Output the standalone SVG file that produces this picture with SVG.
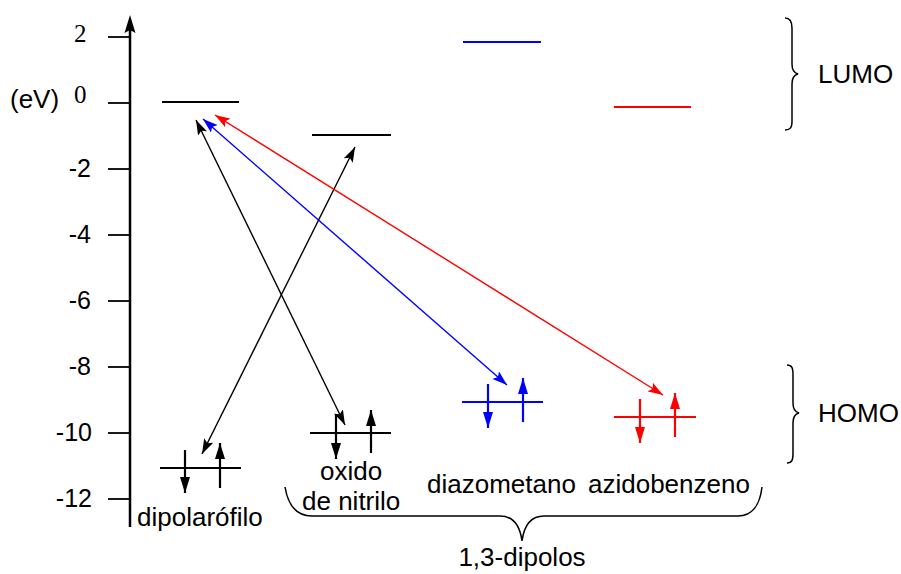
<svg xmlns="http://www.w3.org/2000/svg" width="901" height="574" viewBox="0 0 901 574">
<defs>
<marker id="ak" markerUnits="userSpaceOnUse" markerWidth="16" markerHeight="10" refX="15" refY="5" orient="auto-start-reverse" viewBox="0 0 16 10"><path d="M15,5 L0,0 L3,5 L0,10 Z" fill="#000"/></marker>
<marker id="ab" markerUnits="userSpaceOnUse" markerWidth="16" markerHeight="10" refX="15" refY="5" orient="auto-start-reverse" viewBox="0 0 16 10"><path d="M15,5 L0,0 L3,5 L0,10 Z" fill="#0000ff"/></marker>
<marker id="ar" markerUnits="userSpaceOnUse" markerWidth="16" markerHeight="10" refX="15" refY="5" orient="auto-start-reverse" viewBox="0 0 16 10"><path d="M15,5 L0,0 L3,5 L0,10 Z" fill="#ff0000"/></marker>
<marker id="ek" markerUnits="userSpaceOnUse" markerWidth="17" markerHeight="10" refX="16" refY="5" orient="auto" viewBox="0 0 17 10"><path d="M16,5 L0,0 L0,10 Z" fill="#000"/></marker>
<marker id="eb" markerUnits="userSpaceOnUse" markerWidth="17" markerHeight="10" refX="16" refY="5" orient="auto" viewBox="0 0 17 10"><path d="M16,5 L0,0 L0,10 Z" fill="#0000ff"/></marker>
<marker id="er" markerUnits="userSpaceOnUse" markerWidth="17" markerHeight="10" refX="16" refY="5" orient="auto" viewBox="0 0 17 10"><path d="M16,5 L0,0 L0,10 Z" fill="#ff0000"/></marker>
</defs>
<style>
text{font-family:"Liberation Sans",Arial,sans-serif;font-size:26px;fill:#000}
.serif{font-family:"Liberation Serif","Times New Roman",serif;font-size:25px}
.num{text-anchor:end;font-size:25px}
.lvl{stroke-width:2;fill:none}
.el{stroke-width:2.2;fill:none}
.brace{stroke:#000;stroke-width:1.5;fill:none}
.diag{stroke-width:1.4;fill:none}
</style>
<rect width="901" height="574" fill="#fff"/>
<g id="axis">
<line x1="130" y1="28" x2="130" y2="527" stroke="#000" stroke-width="2.5"/>
<path d="M130,15 L135.5,33 L130,30 L124.5,33 Z" fill="#000"/>
<g stroke="#000" stroke-width="1.8">
<line x1="108" y1="37" x2="130" y2="37"/>
<line x1="108" y1="103" x2="130" y2="103"/>
<line x1="108" y1="169" x2="130" y2="169"/>
<line x1="108" y1="235" x2="130" y2="235"/>
<line x1="108" y1="301" x2="130" y2="301"/>
<line x1="108" y1="367" x2="130" y2="367"/>
<line x1="108" y1="433" x2="130" y2="433"/>
<line x1="108" y1="499" x2="130" y2="499"/>
</g>
<text class="serif" x="74" y="42">2</text>
<text class="serif" x="74" y="103">0</text>
<text class="num" x="91" y="177">-2</text>
<text class="num" x="91" y="243">-4</text>
<text class="num" x="91" y="309">-6</text>
<text class="num" x="91" y="375">-8</text>
<text class="num" x="92" y="441">-10</text>
<text class="num" x="92" y="507">-12</text>
<text x="10" y="108">(eV)</text>
</g>
<g id="dipolarofilo">
<line class="lvl" x1="162" y1="102" x2="239" y2="102" stroke="#000"/>
<line class="lvl" x1="160" y1="468" x2="241" y2="468" stroke="#000"/>
<line class="el" x1="185" y1="450" x2="185" y2="493" stroke="#000" marker-end="url(#ek)"/>
<line class="el" x1="220" y1="488" x2="220" y2="443" stroke="#000" marker-end="url(#ek)"/>
<text x="137" y="526">dipolarófilo</text>
</g>
<g id="oxido">
<line class="lvl" x1="312" y1="135" x2="391" y2="135" stroke="#000"/>
<line class="lvl" x1="310" y1="433" x2="391" y2="433" stroke="#000"/>
<line class="el" x1="336" y1="414" x2="336" y2="459" stroke="#000" marker-end="url(#ek)"/>
<line class="el" x1="371" y1="453" x2="371" y2="410" stroke="#000" marker-end="url(#ek)"/>
<text x="320" y="480">oxido</text>
<text x="302" y="510">de nitrilo</text>
</g>
<g id="diazometano">
<line class="lvl" x1="463" y1="42" x2="541" y2="42" stroke="#0000ff"/>
<line class="lvl" x1="462" y1="402" x2="543" y2="402" stroke="#0000ff"/>
<line class="el" x1="488" y1="384" x2="488" y2="428" stroke="#0000ff" marker-end="url(#eb)"/>
<line class="el" x1="523" y1="422" x2="523" y2="378" stroke="#0000ff" marker-end="url(#eb)"/>
<text x="427" y="493">diazometano</text>
</g>
<g id="azidobenzeno">
<line class="lvl" x1="614" y1="107" x2="691" y2="107" stroke="#ff0000"/>
<line class="lvl" x1="614" y1="417" x2="696" y2="417" stroke="#ff0000"/>
<line class="el" x1="640" y1="399" x2="640" y2="443" stroke="#ff0000" marker-end="url(#er)"/>
<line class="el" x1="675" y1="437" x2="675" y2="393" stroke="#ff0000" marker-end="url(#er)"/>
<text x="588" y="493">azidobenzeno</text>
</g>
<g id="connectors">
<line class="diag" x1="196" y1="120" x2="345" y2="425" stroke="#000" marker-start="url(#ak)" marker-end="url(#ak)"/>
<line class="diag" x1="355" y1="147" x2="202" y2="454" stroke="#000" marker-start="url(#ak)" marker-end="url(#ak)"/>
<line class="diag" x1="203" y1="119" x2="507" y2="385" stroke="#0000ff" marker-start="url(#ab)" marker-end="url(#ab)"/>
<line class="diag" x1="215" y1="115" x2="663" y2="395" stroke="#ff0000" marker-start="url(#ar)" marker-end="url(#ar)"/>
</g>
<g id="lumo">
<path class="brace" d="M785,18 C790,18 792,21 792,28 L792,64 C792,70 794,73 798,74 C794,75 792,78 792,84 L792,121 C792,128 790,130 785,130"/>
<text x="818" y="83">LUMO</text>
</g>
<g id="homo">
<path class="brace" d="M787,365 C792,365 793,368 793,375 L793,403 C793,409 795,412 799,413 C795,414 793,417 793,423 L793,453 C793,460 792,463 787,463"/>
<text x="818" y="422">HOMO</text>
</g>
<g id="dipolos">
<path class="brace" d="M285,487 C288,505 297,516 312,516 L500,516 C513,516 520,526 522,541 C524,526 531,516 544,516 L738,516 C752,516 760,505 762,487"/>
<text x="522" y="566" text-anchor="middle">1,3-dipolos</text>
</g>
</svg>
